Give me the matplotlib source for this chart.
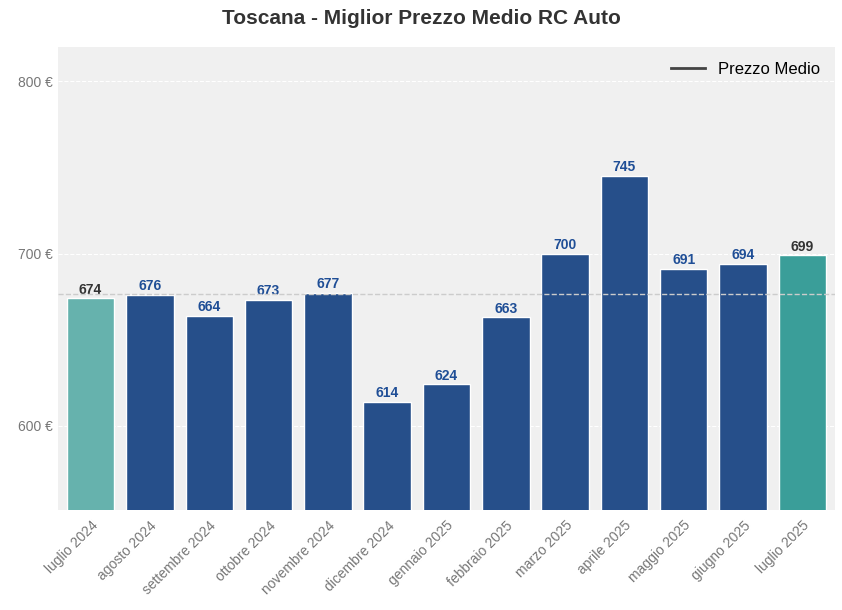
import matplotlib.pyplot as plt
import numpy as np

months = ["luglio 2024", "agosto 2024", "settembre 2024", "ottobre 2024",
          "novembre 2024", "dicembre 2024", "gennaio 2025", "febbraio 2025",
          "marzo 2025", "aprile 2025", "maggio 2025", "giugno 2025", "luglio 2025"]
prices = [674, 676, 664, 673, 677, 614, 624, 663, 700, 745, 691, 694, 699]
y_ticks = [600, 700, 800]

plt.rcParams["font.family"] = "Liberation Sans"

fig = plt.figure(figsize=(8.42, 6.10), dpi=100)
ax = fig.add_axes([58 / 842, 1 - 510 / 610, 777 / 842, 463 / 610])
ax.set_facecolor("#f0f0f0")

colors = ["#264f8a"] * len(prices)
colors[0] = "#66b2ad"
colors[-1] = "#3a9e99"
x = np.arange(len(prices))
bars = ax.bar(x, prices, width=0.8, color=colors, edgecolor="white", linewidth=1, zorder=2)

for i, (b, v) in enumerate(zip(bars, prices)):
    c = "#333333" if i in (0, len(prices) - 1) else "#1f4e96"
    ax.text(b.get_x() + b.get_width() / 2, v + 1, f"{v}", ha="center", va="bottom",
            fontsize=10, fontweight="bold", color=c, zorder=3)

mean = np.mean(prices)
ax.axhline(mean, color="#cccccc", linestyle="--", linewidth=1, zorder=3)
ax.plot([], [], color="#444444", linewidth=2, label="Prezzo Medio")
leg = ax.legend(loc="upper right", frameon=False, fontsize=12)

ax.set_ylim(551, 820)
ax.set_xlim(-0.55, len(prices) - 0.45)
ax.set_yticks(y_ticks)
ax.set_yticklabels([f"{t} €" for t in y_ticks])
ax.yaxis.grid(True, color="white", linestyle="--", linewidth=0.8, zorder=0)
ax.set_xticks(x)
ax.set_xticklabels(months, rotation=45, ha="right", rotation_mode="anchor")
ax.tick_params(axis="both", colors="#777777", labelsize=10, length=0)
ax.tick_params(axis="x", pad=6)
for s in ax.spines.values():
    s.set_visible(False)

fig.suptitle("Toscana - Miglior Prezzo Medio RC Auto", y=0.985, fontsize=15,
             fontweight="bold", color="#333333")

fig.savefig("out.png", dpi=100, facecolor="white")
